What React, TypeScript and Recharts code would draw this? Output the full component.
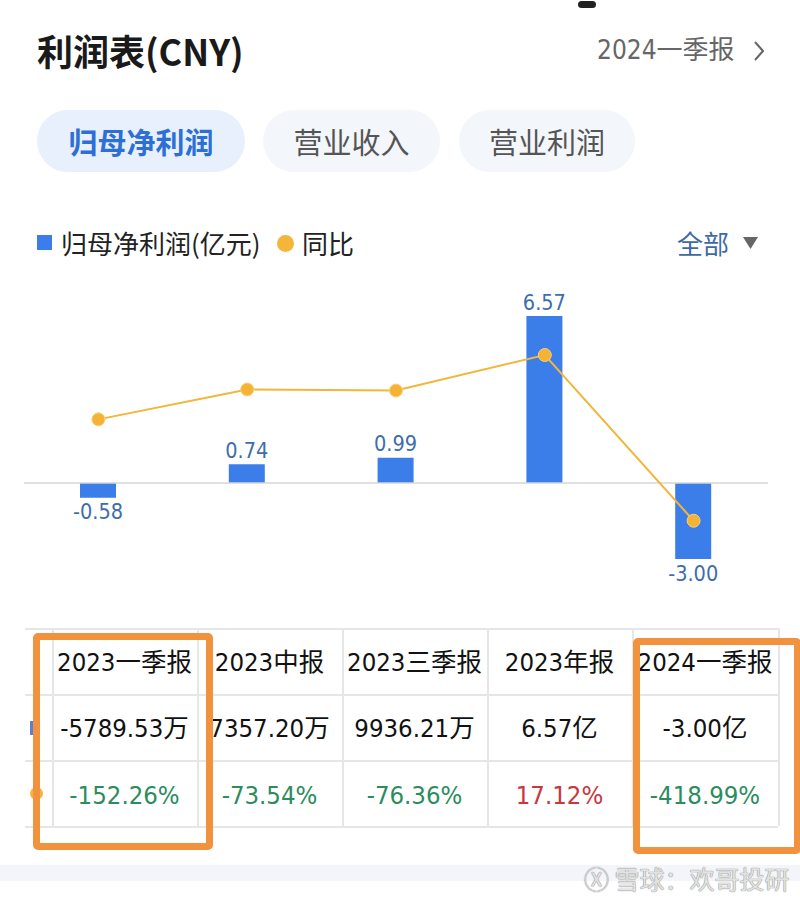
import React from "react";
import { ComposedChart, Bar, Line, XAxis, YAxis, ReferenceLine, LabelList } from "recharts";

const periods = ["2023一季报", "2023中报", "2023三季报", "2023年报", "2024一季报"];
const netProfit = [-0.58, 0.74, 0.99, 6.57, -3.0];
const yoy = [-152.26, -73.54, -76.36, 17.12, -418.99];
const profitText = ["-5789.53万", "7357.20万", "9936.21万", "6.57亿", "-3.00亿"];
const tabs = ["归母净利润", "营业收入", "营业利润"];

const data = periods.map((p, i) => ({ period: p, profit: netProfit[i], yoy: yoy[i] }));

const NUM_FONT = "'DejaVu Sans Condensed', 'Noto Sans CJK SC', sans-serif";
const CJK_FONT = "'Noto Sans CJK SC', 'Noto Sans', sans-serif";
const BLUE = "#3b7de9";
const GOLD = "#f3b53a";
const GRID = "#e6e6e6";

// table geometry
const colEdges = [25, 52, 197, 342, 487, 632, 778];
const rowEdges = [628, 694, 760, 826];

function BarValueLabel(props: any) {
  const { x, y, width, height, value } = props;
  const top = Math.min(y, y + height);
  const bottom = Math.max(y, y + height);
  const cy = value >= 0 ? top - 14 : bottom + 14;
  return (
    <text
      x={x + width / 2}
      y={cy}
      textAnchor="middle"
      dominantBaseline="central"
      fill="#3d6dab"
      fontSize={21.5}
      fontFamily={NUM_FONT}
    >
      {Number(value).toFixed(2)}
    </text>
  );
}

function pctColor(v: number) {
  return v >= 0 ? "#c9363e" : "#2b8c5e";
}

export default function App() {
  return (
    <div
      style={{
        position: "absolute",
        left: 0,
        top: 0,
        width: 800,
        height: 901,
        background: "#fff",
        overflow: "hidden",
        fontFamily: CJK_FONT,
      }}
    >
      {/* status notch */}
      <div style={{ position: "absolute", left: 578, top: 1, width: 18, height: 7, borderRadius: 4, background: "#222" }} />

      {/* header */}
      <div style={{ position: "absolute", left: 37, top: 28, lineHeight: "44px", fontSize: 36, fontWeight: 700, color: "#1a1a1a" }}>
        利润表(CNY)
      </div>
      <div style={{ position: "absolute", left: 597, top: 32, lineHeight: "36px", fontSize: 26, color: "#666", fontFamily: NUM_FONT }}>
        2024一季报
      </div>
      <svg style={{ position: "absolute", left: 752, top: 40 }} width={14} height={22}>
        <polyline points="3,2 11,11 3,20" fill="none" stroke="#666" strokeWidth={2} />
      </svg>

      {/* tabs */}
      {tabs.map((t, i) => {
        const lefts = [37, 263, 459];
        const widths = [208, 177, 176];
        const active = i === 0;
        return (
          <div
            key={t}
            style={{
              position: "absolute",
              left: lefts[i],
              top: 110,
              width: widths[i],
              height: 62,
              borderRadius: 31,
              background: active ? "#e7f0fc" : "#f3f6fa",
              color: active ? "#2d6fd4" : "#555",
              fontSize: 29,
              fontWeight: active ? 700 : 400,
              lineHeight: "62px",
              textAlign: "center",
            }}
          >
            {t}
          </div>
        );
      })}

      {/* legend */}
      <div style={{ position: "absolute", left: 37, top: 235, width: 15, height: 15, background: BLUE }} />
      <div style={{ position: "absolute", left: 61, top: 226, lineHeight: "34px", fontSize: 26, color: "#222" }}>
        归母净利润(亿元)
      </div>
      <div style={{ position: "absolute", left: 277, top: 235, width: 17, height: 17, borderRadius: 9, background: GOLD }} />
      <div style={{ position: "absolute", left: 302, top: 226, lineHeight: "34px", fontSize: 26, color: "#222" }}>
        同比
      </div>
      <div style={{ position: "absolute", left: 677, top: 226, lineHeight: "34px", fontSize: 26, color: "#3b6aa6" }}>
        全部
      </div>
      <svg style={{ position: "absolute", left: 743, top: 237 }} width={16} height={13}>
        <polygon points="0,0 15,0 7.5,12" fill="#666" />
      </svg>

      {/* chart */}
      <div style={{ position: "absolute", left: 0, top: 280 }}>
        <ComposedChart width={800} height={320} data={data} margin={{ top: 0, right: 32, left: 24, bottom: 0 }}>
          <XAxis dataKey="period" hide />
          <YAxis yAxisId="bar" hide domain={[-4.61, 7.99]} allowDataOverflow />
          <YAxis yAxisId="line" hide domain={[-627.6, 214.5]} allowDataOverflow />
          <ReferenceLine yAxisId="bar" y={0} stroke="#d6d6d6" strokeWidth={1.5} />
          <Bar yAxisId="bar" dataKey="profit" fill={BLUE} barSize={36} isAnimationActive={false}>
            <LabelList dataKey="profit" content={<BarValueLabel />} />
          </Bar>
          <Line
            yAxisId="line"
            type="linear"
            dataKey="yoy"
            stroke={GOLD}
            strokeWidth={2}
            dot={{ r: 6.5, fill: "#f5b335", stroke: "#f8d07a", strokeWidth: 1 }}
            isAnimationActive={false}
          />
        </ComposedChart>
      </div>

      {/* table grid */}
      {rowEdges.map((y) => (
        <div key={"h" + y} style={{ position: "absolute", left: colEdges[0], top: y, width: colEdges[6] - colEdges[0], height: 1.5, background: GRID }} />
      ))}
      {colEdges.slice(1).map((x) => (
        <div key={"v" + x} style={{ position: "absolute", left: x, top: rowEdges[0], width: 1.5, height: rowEdges[3] - rowEdges[0], background: GRID }} />
      ))}

      {/* row markers */}
      <div style={{ position: "absolute", left: 30, top: 721, width: 7, height: 14, background: "#5b7fd2" }} />
      <div style={{ position: "absolute", left: 30, top: 787, width: 13, height: 13, borderRadius: 7, background: GOLD }} />

      {periods.map((p, i) => {
        const left = colEdges[i + 1];
        const width = colEdges[i + 2] - colEdges[i + 1];
        const cell = (top: number, content: React.ReactNode, color: string) => (
          <div
            style={{
              position: "absolute",
              left,
              top,
              width,
              textAlign: "center",
              lineHeight: "36px",
              fontSize: 25.5,
              color,
              fontFamily: NUM_FONT,
              whiteSpace: "nowrap",
            }}
          >
            {content}
          </div>
        );
        return (
          <React.Fragment key={p}>
            {cell(644, p, "#111")}
            {cell(710, profitText[i], "#111")}
            {cell(777, yoy[i].toFixed(2) + "%", pctColor(yoy[i]))}
          </React.Fragment>
        );
      })}

      {/* annotation boxes */}
      <div style={{ position: "absolute", left: 33, top: 633, width: 180, height: 217, boxSizing: "border-box", border: "7px solid #f0923e", borderRadius: 5 }} />
      <div style={{ position: "absolute", left: 633, top: 638, width: 168, height: 216, boxSizing: "border-box", border: "7px solid #f0923e", borderRadius: 5 }} />

      {/* bottom band + watermark */}
      <div style={{ position: "absolute", left: 0, top: 865, width: 800, height: 16, background: "#f3f5fa" }} />
      <div
        style={{
          position: "absolute",
          left: 584,
          top: 860,
          lineHeight: "36px",
          fontSize: 25,
          color: "#e2e2e2",
          textShadow: "0 0 1px #888, 0 0 1px #888",
          whiteSpace: "nowrap",
        }}
      >
        Ⓧ 雪球：欢哥投研
      </div>
    </div>
  );
}
